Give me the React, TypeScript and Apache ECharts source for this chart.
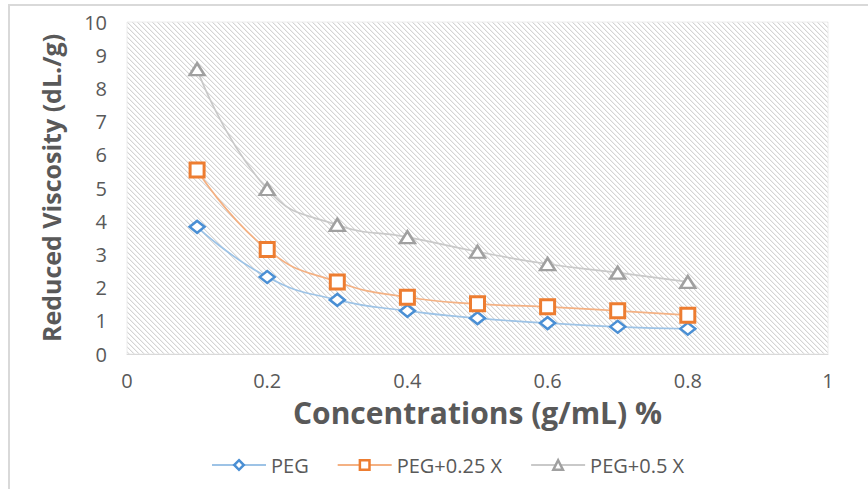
import React, { useEffect, useRef } from "react";
import * as echarts from "echarts";

const xValues = [0.1, 0.2, 0.3, 0.4, 0.5, 0.6, 0.7, 0.8];
const pegValues = [3.83, 2.32, 1.63, 1.3, 1.08, 0.93, 0.82, 0.76];
const peg025Values = [5.54, 3.15, 2.17, 1.71, 1.51, 1.42, 1.3, 1.17];
const peg05Values = [8.58, 4.97, 3.89, 3.52, 3.08, 2.71, 2.45, 2.17];
const seriesNames = ["PEG", "PEG+0.25 X", "PEG+0.5 X"];
const xTitle = "Concentrations (g/mL) %";
const yTitle = "Reduced Viscosity (dL./g)";

function makeHatch(): HTMLCanvasElement {
  const s = 5;
  const c = document.createElement("canvas");
  c.width = s;
  c.height = s;
  const ctx = c.getContext("2d")!;
  ctx.fillStyle = "#ffffff";
  ctx.fillRect(0, 0, s, s);
  for (let i = 0; i < s; i++) {
    ctx.fillStyle = "#d4d4d4";
    ctx.fillRect(i, i, 1, 1);
    ctx.fillStyle = "#f0f0f0";
    ctx.fillRect((i + 1) % s, i, 1, 1);
  }
  return c;
}

export default function App() {
  const ref = useRef<HTMLDivElement>(null);
  useEffect(() => {
    if (!ref.current) return;
    const chart = echarts.init(ref.current, null, { renderer: "svg" });
    const font = "'Open Sans', 'Noto Sans', sans-serif";
    const textColor = "#595959";
    const pair = (vals: number[]) => xValues.map((x, i) => [x, vals[i]]);
    const hatch = makeHatch();
    const mk = (
      name: string,
      vals: number[],
      color: string,
      lineColor: string,
      symbol: string,
      size: any,
      bw: number
    ) => ({
      name,
      type: "line",
      smooth: true,
      data: pair(vals),
      symbol,
      symbolSize: size,
      showAllSymbol: true,
      itemStyle: { color: "#ffffff", borderColor: color, borderWidth: bw },
      lineStyle: { color: lineColor, width: 1.7 },
      z: 3,
    });
    chart.setOption({
      animation: false,
      backgroundColor: "#ffffff",
      textStyle: { fontFamily: font },
      graphic: [
        {
          type: "rect",
          shape: { x: 9, y: 5, width: 900, height: 520 },
          style: { fill: "none", stroke: "#d9d9d9", lineWidth: 2 },
          silent: true,
        },
      ],
      grid: {
        left: 127,
        right: 40,
        top: 22,
        bottom: 135,
        show: true,
        backgroundColor: { image: hatch, repeat: "repeat" },
        borderColor: "#ececec",
        borderWidth: 1,
      },
      legend: {
        left: 206,
        top: 450,
        itemWidth: 54,
        itemHeight: 12,
        itemGap: 28,
        data: seriesNames,
        itemStyle: { borderWidth: 2.5 },
        textStyle: { color: textColor, fontSize: 20, fontFamily: font },
      },
      xAxis: {
        type: "value",
        min: 0,
        max: 1,
        interval: 0.2,
        name: xTitle,
        nameLocation: "middle",
        nameGap: 43,
        nameTextStyle: {
          color: textColor,
          fontSize: 30,
          fontWeight: "bold",
          fontFamily: font,
        },
        axisLine: { show: true, lineStyle: { color: "#d9d9d9" } },
        axisTick: { show: false },
        splitLine: { show: false },
        axisLabel: { color: textColor, fontSize: 20, margin: 16, fontFamily: font },
      },
      yAxis: {
        type: "value",
        min: 0,
        max: 10,
        interval: 1,
        name: yTitle,
        nameLocation: "middle",
        nameGap: 64,
        nameTextStyle: {
          color: textColor,
          fontSize: 25,
          fontWeight: "bold",
          fontFamily: font,
        },
        axisLine: { show: false },
        axisTick: { show: false },
        splitLine: { show: false },
        axisLabel: { color: textColor, fontSize: 20, margin: 20, fontFamily: font },
      },
      series: [
        mk(seriesNames[0], pegValues, "#4a8fd4", "#9dc3e6", "diamond", [15, 12], 2.5),
        mk(seriesNames[1], peg025Values, "#ed7d31", "#f4b183", "rect", 14, 3),
        mk(seriesNames[2], peg05Values, "#a0a0a0", "#c9c9c9", "triangle", [15, 12], 2.5),
      ],
    });
    return () => chart.dispose();
  }, []);
  return (
    <div
      ref={ref}
      style={{ position: "fixed", left: 0, top: 0, width: 868, height: 489 }}
    />
  );
}
